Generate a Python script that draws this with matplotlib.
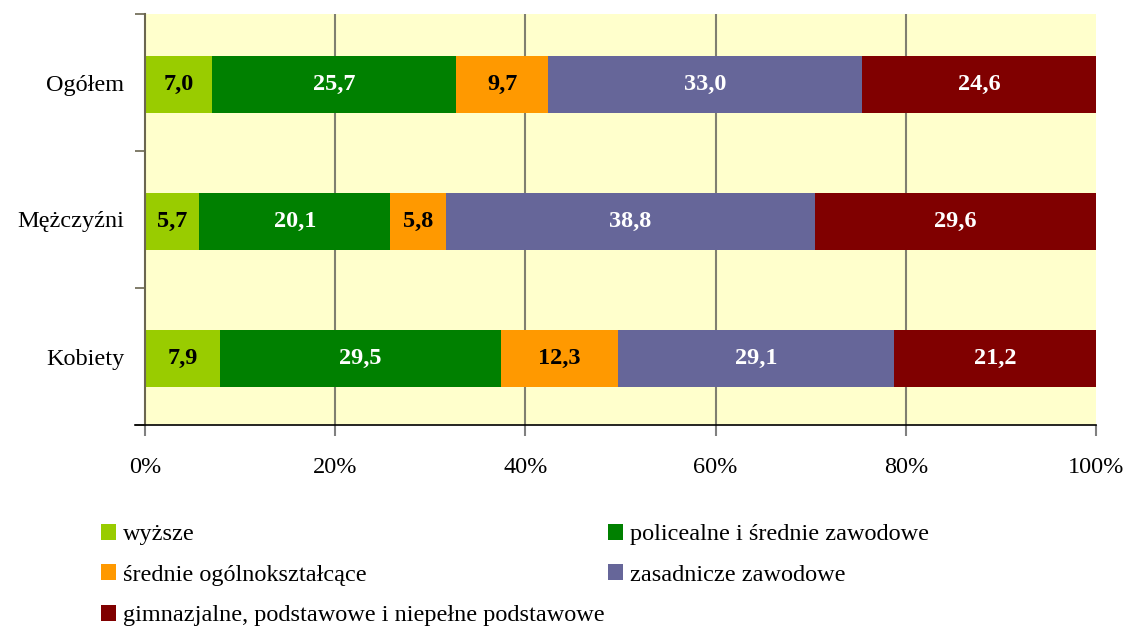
import matplotlib
matplotlib.use("Agg")
import matplotlib.pyplot as plt
import numpy as np
from matplotlib.patches import Patch
from matplotlib.ticker import FixedLocator, PercentFormatter

plt.rcParams['font.family'] = ['Liberation Serif', 'DejaVu Serif']

categories = ["Ogółem", "Mężczyźni", "Kobiety"]
series_names = ["wyższe", "policealne i średnie zawodowe", "średnie ogólnokształcące",
                "zasadnicze zawodowe", "gimnazjalne, podstawowe i niepełne podstawowe"]
values = [
    [7.0, 5.7, 7.9],
    [25.7, 20.1, 29.5],
    [9.7, 5.8, 12.3],
    [33.0, 38.8, 29.1],
    [24.6, 29.6, 21.2],
]
colors = ["#99CC00", "#008000", "#FF9900", "#666699", "#800000"]
label_colors = ["black", "white", "black", "white", "white"]
xtick_values = [0, 20, 40, 60, 80, 100]

fig = plt.figure(figsize=(11.25, 6.26), dpi=100)
ax = fig.add_axes([145/1125, 1-425/626, (1096-145)/1125, (425-14)/626])
ax.set_facecolor("#FFFFCC")

y = np.arange(len(categories))
left = np.zeros(len(categories))
for vals, c, lc, name in zip(values, colors, label_colors, series_names):
    vals = np.array(vals)
    bars = ax.barh(y + 0.015, vals, left=left, height=0.42, color=c, label=name, zorder=2)
    for b, v in zip(bars, vals):
        ax.text(b.get_x() + b.get_width()/2, b.get_y() + b.get_height()/2,
                f"{v:.1f}".replace(".", ","), ha="center", va="center",
                color=lc, fontsize=17.5, fontweight="bold", zorder=3)
    left += vals

ax.set_xlim(0, 100)
ax.set_ylim(len(categories) - 0.5, -0.5)
ax.set_xticks(xtick_values)
ax.xaxis.set_major_formatter(PercentFormatter(decimals=0))
ax.set_yticks(y)
ax.set_yticklabels(categories)
ax.yaxis.set_minor_locator(FixedLocator(np.arange(-0.5, len(categories), 1.0)))
ax.tick_params(axis="y", which="major", length=0, pad=15, labelsize=17.5)
ax.tick_params(axis="y", which="minor", length=7, width=1.2, color="#6b6650", direction="out")
ax.tick_params(axis="x", which="major", length=8, width=1.5, color="#808080", pad=15, labelsize=17.5)

ax.set_axisbelow(True)
ax.xaxis.grid(True, color="#808070", linewidth=1.5, zorder=1)
ax.get_xgridlines()[0].set_visible(False)
ax.get_xgridlines()[-1].set_visible(False)

for s in ["top", "right"]:
    ax.spines[s].set_visible(False)
ax.spines["left"].set_color("#6b6650")
ax.spines["left"].set_linewidth(1.5)
ax.spines["bottom"].set_color("black")
ax.spines["bottom"].set_linewidth(1.2)
ax.spines["bottom"].set_bounds(-1.0, 100)

handles = [Patch(facecolor=c, edgecolor="none") for c in colors]
leg_kw = dict(frameon=False, fontsize=17.5, handlelength=0.62, handleheight=0.62,
              handletextpad=0.3, labelspacing=0.78, borderpad=0, borderaxespad=0)
leg1 = fig.legend([handles[0], handles[2], handles[4]],
                  [series_names[0], series_names[2], series_names[4]],
                  loc="upper left", bbox_to_anchor=(101/1125, 1-524/626), **leg_kw)
leg2 = fig.legend([handles[1], handles[3]],
                  [series_names[1], series_names[3]],
                  loc="upper left", bbox_to_anchor=(608/1125, 1-524/626), **leg_kw)

fig.savefig("out.png", dpi=100)
